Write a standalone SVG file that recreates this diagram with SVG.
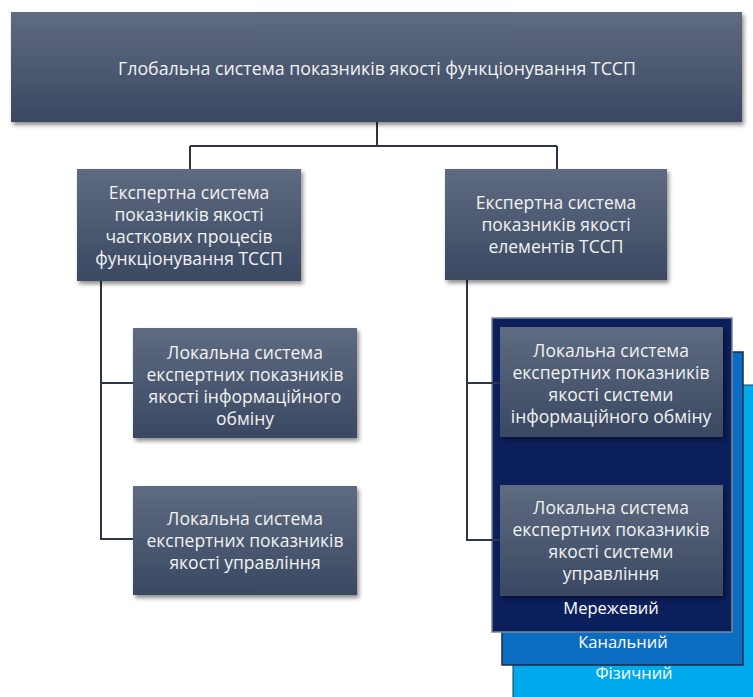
<svg xmlns="http://www.w3.org/2000/svg" width="753" height="697" viewBox="0 0 753 697">
<defs>
<linearGradient id="g" x1="0" y1="0" x2="0" y2="1">
<stop offset="0" stop-color="#5e6b80"/>
<stop offset="1" stop-color="#3a4862"/>
</linearGradient>
<filter id="sh" x="-10%" y="-10%" width="125%" height="130%">
<feDropShadow dx="2" dy="3" stdDeviation="2" flood-color="#000" flood-opacity="0.45"/>
</filter>
<style>
.box{fill:url(#g);filter:url(#sh)}
.t{font-family:"Open Sans","Liberation Sans",sans-serif;font-size:17.5px;fill:#f2f2f2;text-anchor:middle}
.lbl{font-family:"Open Sans","Liberation Sans",sans-serif;font-size:16.5px;fill:#ffffff;text-anchor:middle}
.c{fill:none;stroke:#2d3646;stroke-width:2}
</style>
</defs>
<rect width="753" height="697" fill="#fff"/>

<g id="layers">
<rect x="513" y="385" width="245" height="320" fill="#00a8ec" stroke="#1a3a60" stroke-width="1"/>
<rect x="502" y="352" width="241" height="313" fill="#0a6dc2" stroke="#1c2a45" stroke-width="1.5"/>
<rect x="492" y="318" width="240" height="314" fill="#0b1f5c" stroke="#7d879c" stroke-width="1.5"/>
<text class="lbl" x="611" y="614">Мережевий</text>
<text class="lbl" x="623" y="648">Канальний</text>
<text class="lbl" x="634" y="679">Фізичний</text>
</g>

<g id="connectors">
<path class="c" d="M377 122 V146 M190 146 H557 M190 146 V170 M557 146 V170"/>
<path class="c" d="M101 281 V539 H134 M101 383 H134"/>
<path class="c" d="M467 280 V540 H500 M467 383 H500"/>
</g>

<g id="global">
<rect class="box" x="11" y="12" width="731" height="110"/>
<text class="t" x="377" y="75" textLength="518" lengthAdjust="spacingAndGlyphs">Глобальна система показників якості функціонування ТССП</text>
</g>

<g id="expert-processes">
<rect class="box" x="77" y="169" width="224" height="112"/>
<text class="t" x="189" y="199">Експертна система</text>
<text class="t" x="189" y="221">показників якості</text>
<text class="t" x="189" y="243">часткових процесів</text>
<text class="t" x="189" y="265">функціонування ТССП</text>
</g>

<g id="expert-elements">
<rect class="box" x="445" y="169" width="222" height="111"/>
<text class="t" x="556" y="209">Експертна система</text>
<text class="t" x="556" y="231">показників якості</text>
<text class="t" x="556" y="253">елементів ТССП</text>
</g>

<g id="local-info">
<rect class="box" x="133" y="328" width="224" height="110"/>
<text class="t" x="245" y="359">Локальна система</text>
<text class="t" x="245" y="381">експертних показників</text>
<text class="t" x="245" y="403">якості інформаційного</text>
<text class="t" x="245" y="425">обміну</text>
</g>

<g id="local-control">
<rect class="box" x="133" y="486" width="224" height="109"/>
<text class="t" x="245" y="525">Локальна система</text>
<text class="t" x="245" y="547">експертних показників</text>
<text class="t" x="245" y="569">якості управління</text>
</g>

<g id="local-sys-info">
<rect class="box" x="500" y="327" width="223" height="110"/>
<text class="t" x="611" y="357">Локальна система</text>
<text class="t" x="611" y="379">експертних показників</text>
<text class="t" x="611" y="401">якості системи</text>
<text class="t" x="611" y="423">інформаційного обміну</text>
</g>

<g id="local-sys-control">
<rect class="box" x="500" y="485" width="223" height="111"/>
<text class="t" x="611" y="514">Локальна система</text>
<text class="t" x="611" y="536">експертних показників</text>
<text class="t" x="611" y="558">якості системи</text>
<text class="t" x="611" y="580">управління</text>
</g>
</svg>
